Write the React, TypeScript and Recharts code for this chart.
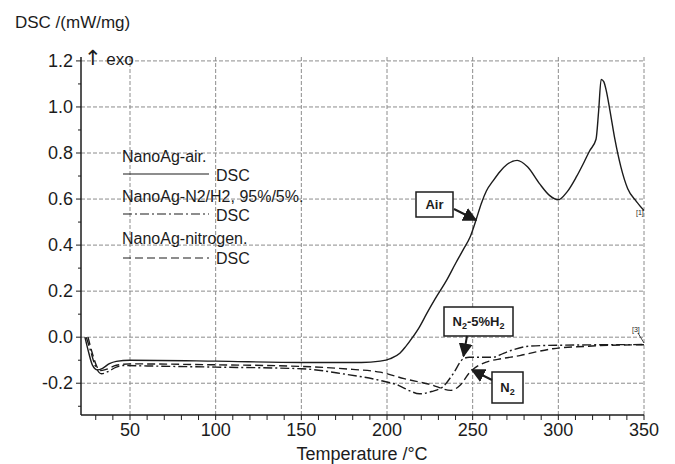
import { LineChart, Line, XAxis, YAxis, ReferenceLine } from "recharts";

// Temperature (°C) / DSC (mW/mg)
const airCurve: [number, number][] = [
  [23.7, 0], [26, -0.07], [28, -0.12], [31, -0.142], [34, -0.135], [38, -0.115],
  [42, -0.105], [50, -0.1], [100, -0.104], [150, -0.11], [185, -0.11], [196, -0.104],
  [202, -0.093], [207.5, -0.07], [211, -0.04], [215, 0.0], [219, 0.045], [223, 0.1],
  [228, 0.165], [235, 0.25], [240, 0.32], [244.5, 0.38], [248.5, 0.435], [252, 0.51],
  [255, 0.58], [258, 0.635], [262, 0.68], [266, 0.72], [270, 0.75], [276, 0.768],
  [282, 0.74], [289, 0.667], [295, 0.615], [300, 0.597], [305, 0.63], [310.5, 0.696],
  [315, 0.76], [318.3, 0.81], [322, 0.86], [323.5, 0.98], [325, 1.12], [326.5, 1.11],
  [328, 1.07], [330, 0.99], [333, 0.86], [336.5, 0.74], [340.5, 0.645], [345.5, 0.59],
  [350, 0.55],
];

const h2Curve: [number, number][] = [
  [24.5, 0], [27, -0.06], [29.5, -0.12], [33.4, -0.159], [37, -0.15], [42, -0.13],
  [46, -0.123], [60, -0.125], [100, -0.13], [150, -0.137], [175, -0.16], [196, -0.188],
  [207, -0.21], [213, -0.232], [219, -0.246], [226, -0.236], [232.8, -0.214],
  [238.6, -0.159], [244.5, -0.094], [248, -0.087], [262, -0.087], [268, -0.07],
  [273.5, -0.055], [283, -0.039], [300, -0.035], [350, -0.032],
];

const n2Curve: [number, number][] = [
  [25.5, 0], [28, -0.07], [30.5, -0.125], [32.5, -0.145], [36, -0.14], [42, -0.122],
  [50, -0.116], [100, -0.12], [150, -0.127], [180, -0.14], [196, -0.152], [210, -0.18],
  [225, -0.205], [237.3, -0.231], [242.5, -0.21], [248.4, -0.152], [253, -0.125],
  [258, -0.108], [267, -0.093], [277.5, -0.08], [287, -0.064], [296.8, -0.05],
  [316, -0.04], [330, -0.035], [350, -0.033],
];

const xTicks = [30, 40, 50, 60, 70, 80, 90, 100, 110, 120, 130, 140, 150, 160, 170, 180, 190, 200,
  210, 220, 230, 240, 250, 260, 270, 280, 290, 300, 310, 320, 330, 340, 350];
const xLabels = [50, 100, 150, 200, 250, 300, 350];
const yTicks = [-0.3, -0.2, -0.1, 0, 0.1, 0.2, 0.3, 0.4, 0.5, 0.6, 0.7, 0.8, 0.9, 1.0, 1.1, 1.2];
const yLabels = [-0.2, 0, 0.2, 0.4, 0.6, 0.8, 1.0, 1.2];

const toRows = (pts: [number, number][]) => pts.map(([t, v]) => ({ t, v }));

const FONT = "'Liberation Sans', Arial, sans-serif";
const PLOT_LEFT = 81;
const PLOT_BOTTOM = 415;
const INK = "#1c1c1c";
const GRID = "#8c8c8c";

function XTick(props: any) {
  const { x, payload } = props;
  const major = xLabels.includes(payload.value);
  return (
    <g>
      <line x1={x} x2={x} y1={PLOT_BOTTOM} y2={PLOT_BOTTOM + 5} stroke={INK} />
      {major && (
        <text x={x} y={436} textAnchor="middle" fontSize={18} fill={INK} fontFamily={FONT}>
          {payload.value}
        </text>
      )}
    </g>
  );
}

function YTick(props: any) {
  const { y, payload } = props;
  const major = yLabels.some((v) => Math.abs(v - payload.value) < 1e-6);
  return (
    <g>
      <line x1={PLOT_LEFT - (major ? 5 : 3)} x2={PLOT_LEFT} y1={y} y2={y} stroke={INK} />
      {major && (
        <text x={73} y={y} dy={6} textAnchor="end" fontSize={18} fill={INK} fontFamily={FONT}>
          {payload.value.toFixed(1)}
        </text>
      )}
    </g>
  );
}

function Overlay() {
  const txt = { fontFamily: FONT, fill: INK } as const;
  return (
    <svg width={675} height={464} style={{ position: "absolute", left: 0, top: 0, pointerEvents: "none" }}>
      <defs>
        <marker id="ah" viewBox="0 0 10 10" refX="9" refY="5" markerWidth="7" markerHeight="7" orient="auto">
          <path d="M0,0 L10,5 L0,10 z" fill={INK} />
        </marker>
      </defs>
      <text x={15} y={28} fontSize={17} {...txt}>DSC /(mW/mg)</text>
      <text x={84} y={65} fontSize={17} {...txt}>
        <tspan fontSize={21} fontFamily="'DejaVu Sans', sans-serif">↑</tspan> exo
      </text>

      <text x={122} y={162} fontSize={16} {...txt}>NanoAg-air.</text>
      <line x1={123} x2={209} y1={174} y2={174} stroke={INK} strokeWidth={1.2} />
      <text x={216} y={181} fontSize={16} {...txt}>DSC</text>
      <text x={122} y={202} fontSize={16} {...txt}>NanoAg-N2/H2, 95%/5%.</text>
      <line x1={123} x2={209} y1={214} y2={214} stroke={INK} strokeWidth={1.2} strokeDasharray="9 3 2 3" />
      <text x={216} y={221} fontSize={16} {...txt}>DSC</text>
      <text x={122} y={244} fontSize={16} {...txt}>NanoAg-nitrogen.</text>
      <line x1={123} x2={209} y1={258} y2={258} stroke={INK} strokeWidth={1.2} strokeDasharray="8 4" />
      <text x={216} y={264} fontSize={16} {...txt}>DSC</text>

      <rect x={416} y={192} width={37} height={25} fill="#fff" stroke={INK} strokeWidth={1.5} />
      <text x={434.5} y={209} fontSize={13} fontWeight="bold" textAnchor="middle" {...txt}>Air</text>
      <line x1={454} y1={209} x2={476} y2={220} stroke={INK} strokeWidth={2} markerEnd="url(#ah)" />

      <rect x={444} y={307} width={69} height={29} fill="#fff" stroke={INK} strokeWidth={1.5} />
      <text x={478.5} y={326} fontSize={13} fontWeight="bold" textAnchor="middle" {...txt}>
        N<tspan fontSize={9} dy={3}>2</tspan><tspan dy={-3}>-5%H</tspan><tspan fontSize={9} dy={3}>2</tspan>
      </text>
      <line x1={467} y1={336} x2={463.5} y2={356} stroke={INK} strokeWidth={2} markerEnd="url(#ah)" />

      <rect x={492} y={372} width={31} height={31} fill="#fff" stroke={INK} strokeWidth={1.5} />
      <text x={507.5} y={392} fontSize={13} fontWeight="bold" textAnchor="middle" {...txt}>
        N<tspan fontSize={9} dy={3}>2</tspan>
      </text>
      <line x1={492} y1={380} x2={472} y2={370} stroke={INK} strokeWidth={2} markerEnd="url(#ah)" />

      <text x={636} y={215} fontSize={7} {...txt}>[1]</text>
      <text x={632} y={332} fontSize={7} {...txt}>[3]</text>
      <line x1={638} y1={333} x2={644} y2={343} stroke={INK} strokeWidth={0.8} />

      <text x={362} y={460} fontSize={18} textAnchor="middle" {...txt}>Temperature /°C</text>
    </svg>
  );
}

export default function App() {
  const gridX = [50, 100, 150, 200, 250, 300, 350];
  const gridY = [-0.2, 0, 0.2, 0.4, 0.6, 0.8, 1.0, 1.2];
  return (
    <div style={{ position: "absolute", left: 0, top: 0, width: 675, height: 464, background: "#fff" }}>
      <LineChart width={675} height={464} margin={{ top: 57, right: 31, bottom: 0, left: 0 }}>
        <XAxis
          dataKey="t"
          type="number"
          domain={[21.4, 350]}
          ticks={xTicks}
          interval={0}
          tick={<XTick />}
          tickLine={false}
          axisLine={{ stroke: INK, strokeWidth: 1.5 }}
          height={49}
          allowDataOverflow
        />
        <YAxis
          type="number"
          domain={[-0.338, 1.217]}
          ticks={yTicks}
          interval={0}
          tick={<YTick />}
          tickLine={false}
          axisLine={{ stroke: INK, strokeWidth: 1.5 }}
          width={81}
          allowDataOverflow
        />
        {gridX.map((v) => (
          <ReferenceLine key={"gx" + v} x={v} stroke={GRID} strokeDasharray="4 2" strokeWidth={1} />
        ))}
        {gridY.map((v) => (
          <ReferenceLine key={"gy" + v} y={v} stroke={GRID} strokeDasharray="4 2" strokeWidth={1} />
        ))}
        <Line data={toRows(airCurve)} dataKey="v" type="monotone" stroke={INK} strokeWidth={1.4} dot={false} isAnimationActive={false} />
        <Line data={toRows(h2Curve)} dataKey="v" type="monotone" stroke={INK} strokeWidth={1.4} strokeDasharray="9 3 2 3" dot={false} isAnimationActive={false} />
        <Line data={toRows(n2Curve)} dataKey="v" type="monotone" stroke={INK} strokeWidth={1.4} strokeDasharray="8 4" dot={false} isAnimationActive={false} />
      </LineChart>
      <Overlay />
    </div>
  );
}
